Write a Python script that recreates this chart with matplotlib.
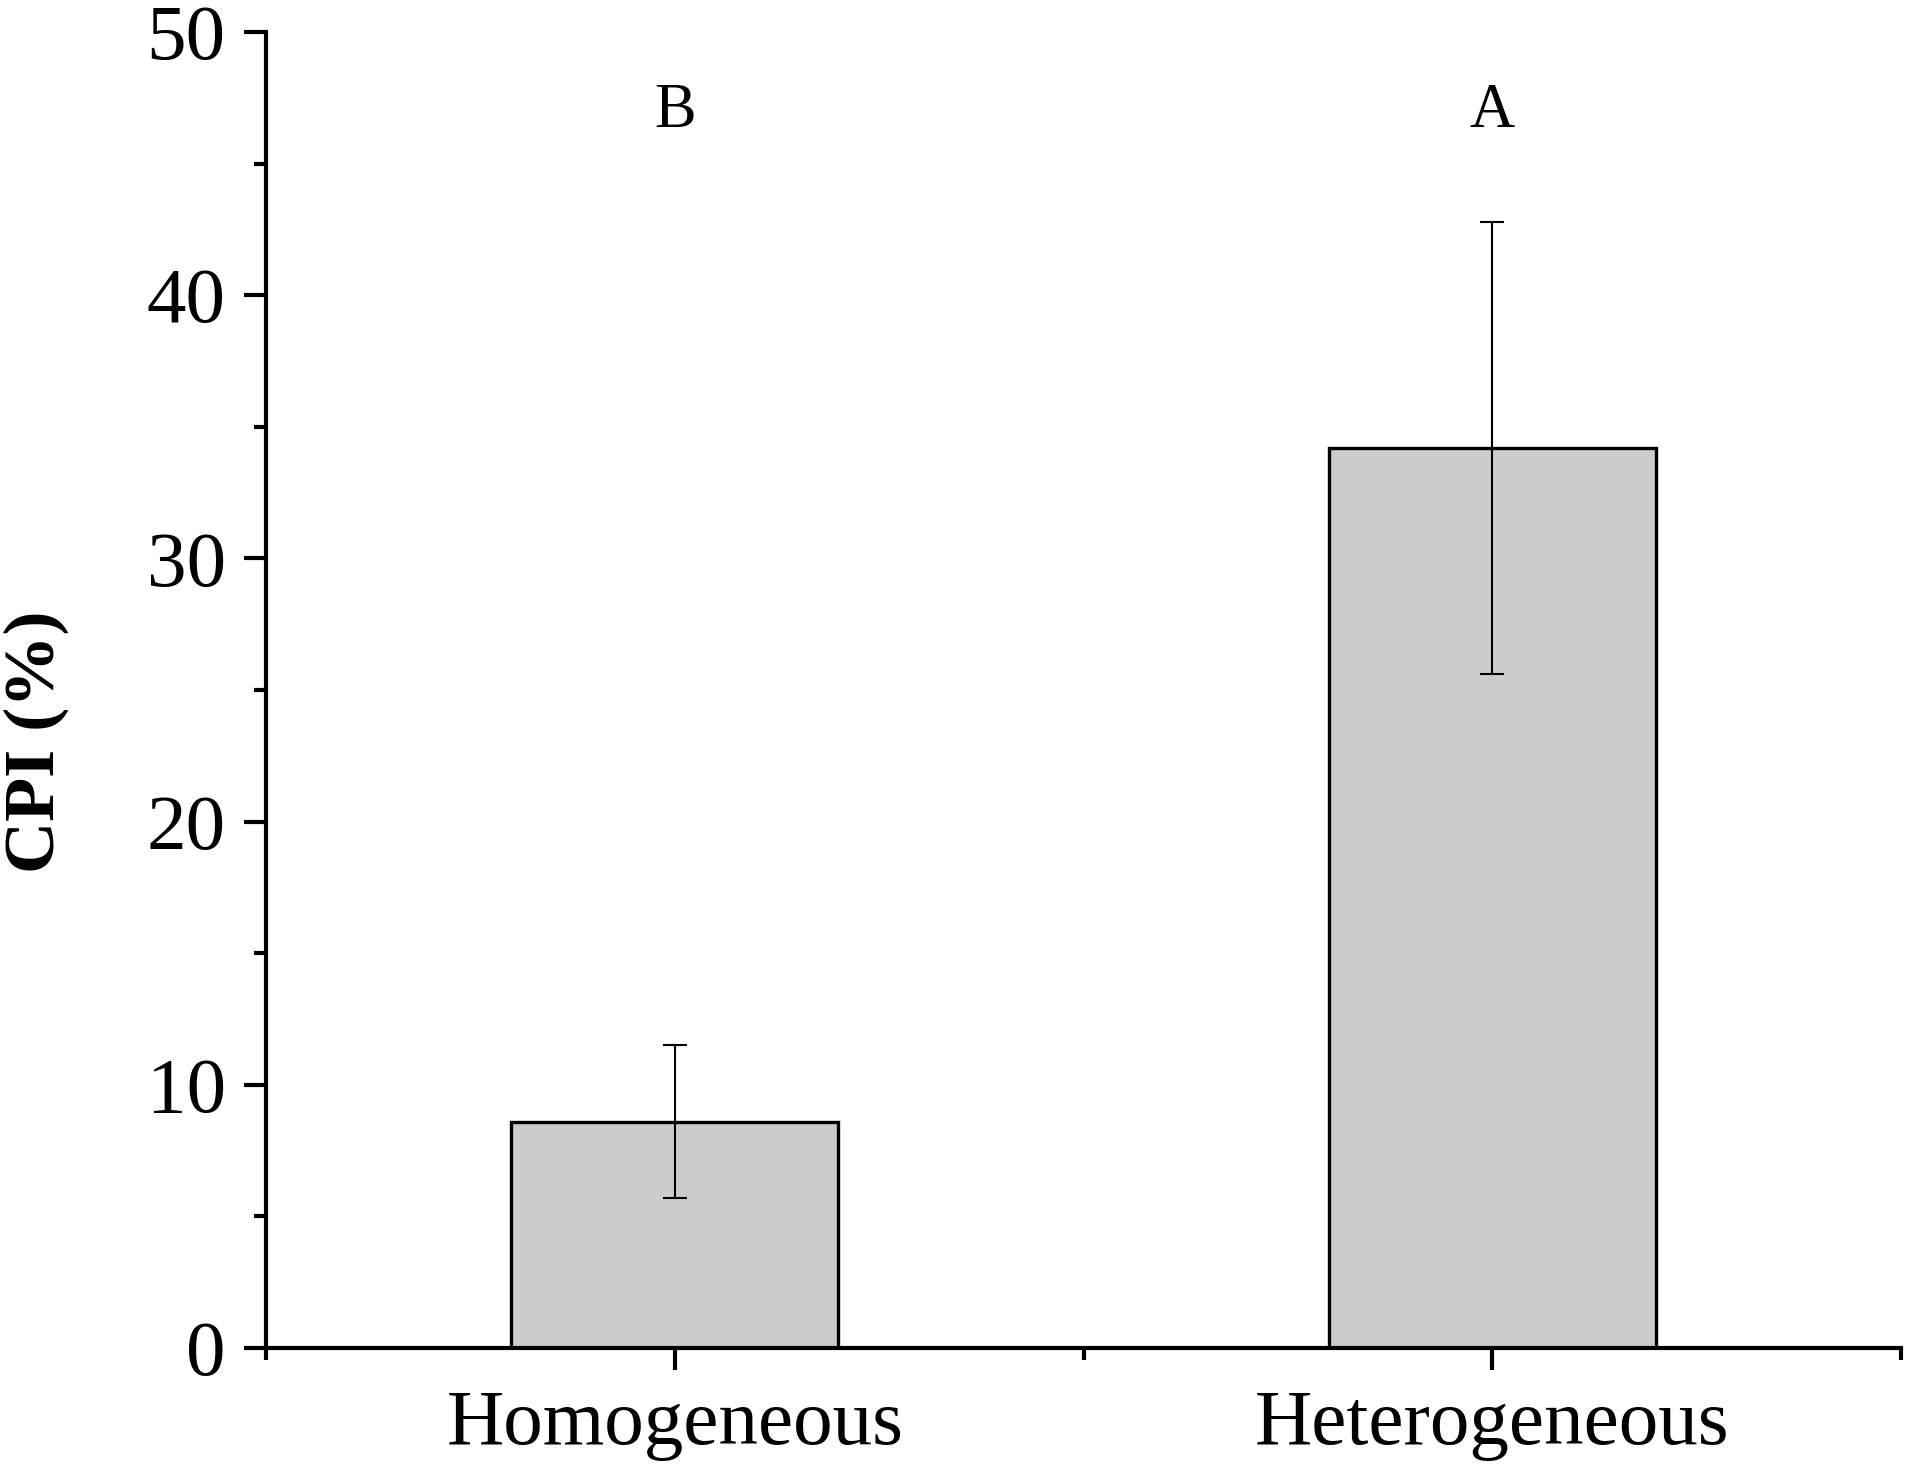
import matplotlib
matplotlib.use("Agg")
import matplotlib.pyplot as plt
from matplotlib.ticker import MultipleLocator, FixedLocator

# data
groups = ['Homogeneous', 'Heterogeneous']
cpi = [8.6, 34.2]
cpi_err = [2.9, 8.6]
letters = ['B', 'A']

plt.rcParams['font.family'] = ['Liberation Serif', 'DejaVu Serif']

fig = plt.figure(figsize=(19.05, 14.68), dpi=100)
ax = fig.add_axes([0.1396, 0.0817, 0.8584, 0.8965])

x = [1, 2]
ax.bar(x, cpi, width=0.4, color='#cccccc', edgecolor='black', linewidth=2.4, zorder=2)
ax.errorbar(x, cpi, yerr=cpi_err, fmt='none', ecolor='black',
            elinewidth=1.5, capsize=8.5, capthick=1.5, zorder=3)

# significance letters above the bars
for xi, letter in zip(x, letters):
    ax.text(xi, 46.4, letter, ha='center', va='baseline', fontsize=45)

ax.set_xlim(0.5, 2.5)
ax.set_ylim(0, 50)
ax.set_xticks(x)
ax.set_xticklabels(groups)
ax.xaxis.set_minor_locator(FixedLocator([0.5, 1.5, 2.5]))
ax.yaxis.set_major_locator(MultipleLocator(10))
ax.yaxis.set_minor_locator(MultipleLocator(5))

for side in ['top', 'right']:
    ax.spines[side].set_visible(False)
for side in ['left', 'bottom']:
    ax.spines[side].set_linewidth(3)

ax.tick_params(axis='both', which='major', direction='out', length=16, width=3,
               labelsize=57)
ax.tick_params(axis='both', which='minor', direction='out', length=8.5, width=3)
ax.tick_params(axis='y', which='major', pad=13)
ax.tick_params(axis='x', which='major', pad=14)

fig.text(36 / 1905, 1 - 742 / 1468, 'CPI (%)', rotation=90, ha='center', va='center',
         fontsize=52, fontweight='bold')

fig.savefig('out.png', dpi=100)
